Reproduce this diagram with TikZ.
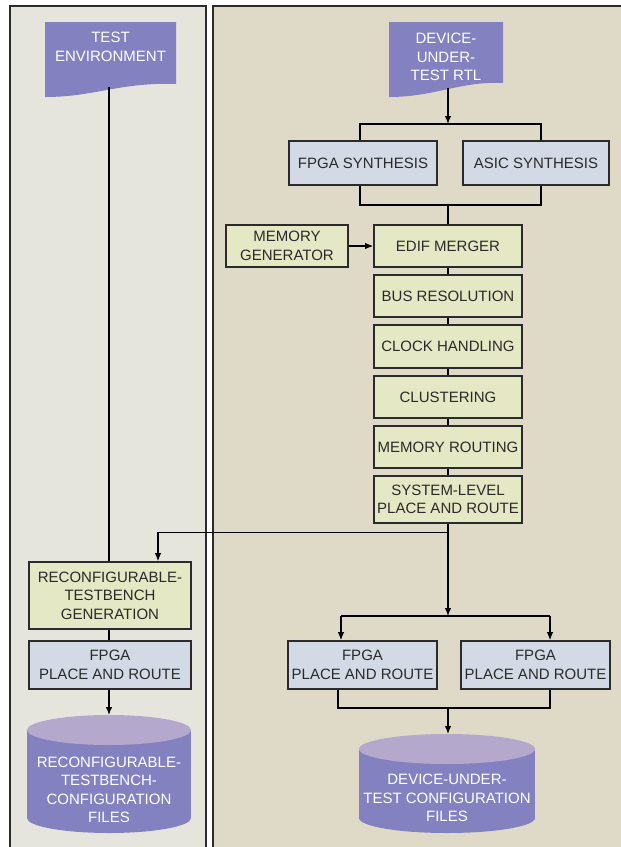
\documentclass[tikz,border=0pt]{standalone}
\usepackage{fontspec}
\setmainfont{Liberation Sans}
\usetikzlibrary{arrows.meta}
\definecolor{leftpanel}{HTML}{E5E5DD}
\definecolor{rightpanel}{HTML}{DEDAC7}
\definecolor{bluefill}{HTML}{D3DAE5}
\definecolor{greenfill}{HTML}{E4E8C4}
\definecolor{purp}{HTML}{8481C1}
\definecolor{purptop}{HTML}{B4A8CD}
\definecolor{boxline}{HTML}{2B2B2B}
\definecolor{txt}{HTML}{2A2A2A}
\begin{document}
\begin{tikzpicture}[x=1pt,y=-1pt,font=\fontsize{15}{18.5}\selectfont,
  box/.style={draw=boxline,line width=1.6pt,align=center,inner sep=0pt,text=txt},
  bluebox/.style={box,fill=bluefill},
  greenbox/.style={box,fill=greenfill},
  wire/.style={line width=1.3pt,draw=black},
  arr/.style={wire,-{Latex[length=8pt,width=6.5pt]}},
  panel/.style={draw=boxline,line width=1.6pt},
  doctext/.style={text=white,align=center,inner sep=0pt},
  ]
\useasboundingbox (0,0) rectangle (621,847);
\fill[white] (0,0) rectangle (621,847);
% panels
\path[panel,fill=leftpanel] (10,6) rectangle (206,870);
\path[panel,fill=rightpanel] (213,6) rectangle (640,870);

% documents
\fill[purp] (45,22) -- (176,22) -- (176,84) .. controls (120,82) and (95,97) .. (45,97) -- cycle;
\node[doctext] (testenv) at (110.5,47) {TEST\\ENVIRONMENT};
\coordinate (tebot) at (109,87);
\fill[purp] (389,22) -- (503,22) -- (503,83) .. controls (460,81) and (435,97) .. (389,97) -- cycle;
\node[doctext] (dut) at (446,57) {DEVICE-\\UNDER-\\TEST RTL};
\coordinate (dutbot) at (448,88);

% synthesis
\node[bluebox,minimum width=148,minimum height=44] (fpgasyn) at (363,163) {FPGA SYNTHESIS};
\node[bluebox,minimum width=146,minimum height=44] (asicsyn) at (536,163) {ASIC SYNTHESIS};
\coordinate (topbar) at (448,124);
\coordinate (midbar) at (448,205);

% chain
\node[greenbox,minimum width=122,minimum height=42] (memgen) at (287,246) {MEMORY\\GENERATOR};
\node[greenbox,minimum width=148,minimum height=42] (edif) at (448,246) {EDIF MERGER};
\node[greenbox,minimum width=148,minimum height=42] (bus) at (448,296) {BUS RESOLUTION};
\node[greenbox,minimum width=148,minimum height=43] (clock) at (448,346.5) {CLOCK HANDLING};
\node[greenbox,minimum width=148,minimum height=42] (clust) at (448,397) {CLUSTERING};
\node[greenbox,minimum width=148,minimum height=42] (memrout) at (448,447) {MEMORY ROUTING};
\node[greenbox,minimum width=148,minimum height=47] (syslev) at (448,499.5) {SYSTEM-LEVEL\\PLACE AND ROUTE};

% left column
\node[greenbox,minimum width=162,minimum height=67] (reconf) at (110,595.5) {RECONFIGURABLE-\\TESTBENCH\\GENERATION};
\node[bluebox,minimum width=162,minimum height=48] (fpgaL) at (110,665) {FPGA\\PLACE AND ROUTE};

% right bottom
\node[bluebox,minimum width=149,minimum height=48] (fpgaR1) at (362.5,665) {FPGA\\PLACE AND ROUTE};
\node[bluebox,minimum width=149,minimum height=48] (fpgaR2) at (535.5,665) {FPGA\\PLACE AND ROUTE};

% cylinders
\fill[purp] (27,730) rectangle (191,818);
\fill[purp] (109,818) ellipse [x radius=82pt,y radius=15pt];
\fill[purptop] (109,730) ellipse [x radius=82pt,y radius=15pt];
\node[doctext] (cylL) at (109,790) {RECONFIGURABLE-\\TESTBENCH-\\CONFIGURATION\\FILES};
\coordinate (cylLtop) at (109,715);
\fill[purp] (359,749) rectangle (535,818);
\fill[purp] (447,818) ellipse [x radius=88pt,y radius=15pt];
\fill[purptop] (447,749) ellipse [x radius=88pt,y radius=15pt];
\node[doctext] (cylR) at (447,798) {DEVICE-UNDER-\\TEST CONFIGURATION\\FILES};
\coordinate (cylRtop) at (448,734);

% connectors
\draw[wire] (tebot) -- (tebot |- reconf.north);
\draw[arr] (dutbot) -- (topbar);
\draw[wire] (fpgasyn.north -| 360,0) |- (topbar) -| (asicsyn.north -| 541,0);
\draw[wire] (fpgasyn.south -| 360,0) |- (midbar) -| (asicsyn.south -| 541,0);
\draw[wire] (midbar) -- (edif.north);
\draw[arr] (memgen.east) -- (edif.west);
\draw[wire] (edif.south) -- (bus.north);
\draw[wire] (bus.south) -- (clock.north);
\draw[wire] (clock.south) -- (clust.north);
\draw[wire] (clust.south) -- (memrout.north);
\draw[wire] (memrout.south) -- (syslev.north);
\coordinate (split) at (448,532.5);
\coordinate (rtarget) at (158,532.5);
\draw[wire] (syslev.south) -- (split);
\draw[arr] (split) -- (rtarget) -- (rtarget |- reconf.north);
\coordinate (lowbar) at (448,616);
\draw[arr] (split) -- (lowbar);
\coordinate (bl) at (341,616);
\coordinate (br) at (550,616);
\draw[wire] (bl) -- (br);
\draw[arr] (bl) -- (bl |- fpgaR1.north);
\draw[arr] (br) -- (br |- fpgaR2.north);
\draw[wire] (reconf.south -| tebot) -- (fpgaL.north -| tebot);
\draw[arr] (fpgaL.south -| tebot) -- (cylLtop);
\coordinate (botbar) at (448,708);
\draw[wire] (fpgaR1.south -| 338,0) |- (botbar) -| (fpgaR2.south -| 550,0);
\draw[arr] (botbar) -- (cylRtop);
\end{tikzpicture}
\end{document}
